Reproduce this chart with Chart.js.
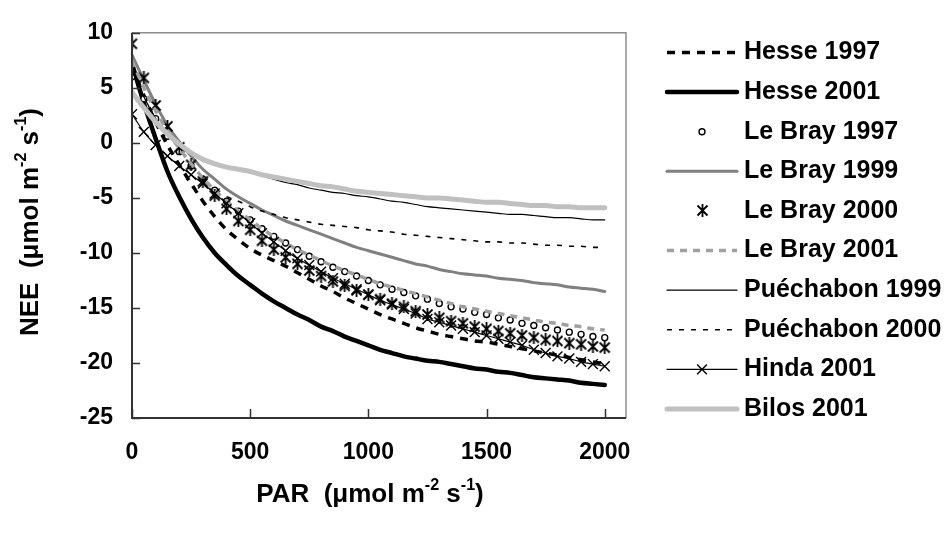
<!DOCTYPE html>
<html lang="en">
<head>
    <meta charset="UTF-8">
    <title>NEE vs PAR</title>
    <script src="https://cdn.jsdelivr.net/npm/chart.js"></script>
    <style>
        body { margin: 0; background: #fff; }
        #wrap { width: 951px; height: 536px; }
    </style>
</head>
<body>
    <div id="wrap"><canvas id="neeChart" width="951" height="536"></canvas></div>

    <script>
        // PAR (x) sampled every 50 umol m-2 s-1
        const parValues = [0, 50, 100, 150, 200, 250, 300, 350, 400, 450, 500, 550, 600, 650, 700, 750, 800, 850, 900, 950,
            1000, 1050, 1100, 1150, 1200, 1250, 1300, 1350, 1400, 1450, 1500, 1550, 1600, 1650, 1700, 1750, 1800, 1850, 1900, 1950, 2000];

        const seriesNames = ['Hesse 1997', 'Hesse 2001', 'Le Bray 1997', 'Le Bray 1999', 'Le Bray 2000',
            'Le Bray 2001', 'Puéchabon 1999', 'Puéchabon 2000', 'Hinda 2001', 'Bilos 2001'];

        const hesse1997 = [7.0, 4.3, 1.9, -0.2, -2.0, -3.7, -5.3, -6.7, -7.9, -8.8, -9.6, -10.2, -10.7, -11.2, -11.8, -12.4, -13.0, -13.5, -14.1, -14.6,
            -15.1, -15.6, -16.0, -16.4, -16.8, -17.1, -17.4, -17.6, -17.8, -18.0, -18.1, -18.3, -18.5, -18.7, -18.9, -19.1, -19.3, -19.5, -19.7, -19.9, -20.1];
        const hesse2001 = [7.2, 3.6, 0.4, -2.6, -4.9, -6.9, -8.6, -10.0, -11.1, -12.1, -12.9, -13.7, -14.4, -15.0, -15.6, -16.1, -16.7, -17.1, -17.6, -18.0,
            -18.4, -18.8, -19.1, -19.4, -19.6, -19.8, -19.9, -20.1, -20.3, -20.5, -20.6, -20.8, -20.9, -21.1, -21.3, -21.4, -21.5, -21.6, -21.8, -21.9, -22.0];
        const leBray1997 = [6.0, 4.0, 2.2, 0.6, -0.8, -2.1, -3.3, -4.3, -5.3, -6.2, -7.0, -7.8, -8.5, -9.1, -9.7, -10.3, -10.8, -11.3, -11.7, -12.1,
            -12.5, -12.9, -13.3, -13.6, -13.9, -14.2, -14.6, -14.9, -15.1, -15.4, -15.6, -15.9, -16.1, -16.4, -16.6, -16.8, -17.0, -17.2, -17.4, -17.6, -17.7];
        const leBray1999 = [8.0, 5.7, 3.5, 1.6, 0.1, -1.2, -2.4, -3.3, -4.2, -4.9, -5.5, -6.1, -6.6, -7.1, -7.5, -7.9, -8.3, -8.7, -9.1, -9.5,
            -9.8, -10.1, -10.4, -10.7, -11.0, -11.2, -11.5, -11.7, -11.9, -12.0, -12.1, -12.3, -12.4, -12.5, -12.7, -12.8, -12.9, -13.1, -13.2, -13.3, -13.5];
        const leBray2000 = [9.0, 5.9, 3.4, 1.5, -0.4, -2.0, -3.5, -4.8, -6.0, -7.1, -7.9, -8.9, -9.7, -10.4, -11.0, -11.6, -12.1, -12.6, -13.0, -13.4,
            -13.8, -14.2, -14.6, -14.9, -15.3, -15.6, -15.9, -16.2, -16.4, -16.7, -16.9, -17.1, -17.3, -17.5, -17.7, -17.9, -18.0, -18.2, -18.3, -18.5, -18.6];
        const leBray2001 = [7.5, 5.0, 2.9, 1.1, -0.5, -1.9, -3.2, -4.3, -5.3, -6.2, -7.0, -7.8, -8.5, -9.1, -9.7, -10.2, -10.7, -11.2, -11.6, -12.0,
            -12.4, -12.8, -13.1, -13.4, -13.7, -14.0, -14.3, -14.6, -14.9, -15.1, -15.3, -15.5, -15.7, -15.9, -16.1, -16.3, -16.4, -16.6, -16.7, -16.9, -17.0];
        const puechabon1999 = [6.5, 4.2, 2.2, 0.7, -0.3, -1.0, -1.5, -1.9, -2.2, -2.5, -2.7, -3.0, -3.3, -3.6, -3.8, -4.1, -4.3, -4.5, -4.6, -4.8,
            -4.9, -5.1, -5.3, -5.4, -5.6, -5.8, -5.9, -6.0, -6.1, -6.2, -6.3, -6.4, -6.5, -6.5, -6.6, -6.7, -6.8, -6.8, -6.9, -7.0, -7.0];
        const puechabon2000 = [null, null, null, null, null, null, null, null, -4.9, -5.3, -5.8, -6.2, -6.5, -6.8, -7.0, -7.2, -7.4, -7.5, -7.6, -7.7,
            -7.9, -8.0, -8.1, -8.3, -8.4, -8.5, -8.6, -8.7, -8.8, -8.9, -9.0, -9.0, -9.1, -9.1, -9.2, -9.3, -9.3, -9.4, -9.4, -9.5, -9.5];
        const hinda2001 = [2.6, 1.0, -0.2, -1.2, -2.1, -2.9, -3.7, -4.6, -5.5, -6.4, -7.3, -8.2, -9.0, -9.8, -10.5, -11.1, -11.7, -12.3, -12.8, -13.3,
            -13.8, -14.3, -14.7, -15.1, -15.5, -16.0, -16.3, -16.6, -16.9, -17.2, -17.5, -17.8, -18.1, -18.4, -18.8, -19.1, -19.4, -19.6, -19.9, -20.1, -20.3];
        const bilos2001 = [4.6, 3.2, 1.9, 0.8, -0.1, -0.9, -1.5, -1.9, -2.2, -2.4, -2.6, -2.9, -3.1, -3.3, -3.5, -3.7, -3.9, -4.0, -4.2, -4.4,
            -4.5, -4.6, -4.7, -4.8, -4.9, -5.0, -5.0, -5.1, -5.2, -5.3, -5.4, -5.4, -5.5, -5.6, -5.7, -5.7, -5.8, -5.8, -5.9, -5.9, -5.9];

        const xTickValues = [0, 500, 1000, 1500, 2000];
        const yTickValues = [-25, -20, -15, -10, -5, 0, 5, 10];

        const FONT = "'Liberation Sans', Arial, sans-serif";

        // asterisk marker (X with a vertical stroke) used for Le Bray 2000
        function makeAsterisk() {
            const c = document.createElement('canvas');
            c.width = 13; c.height = 13;
            const g = c.getContext('2d');
            g.strokeStyle = '#000';
            g.lineWidth = 1.8;
            g.beginPath();
            g.moveTo(1.5, 1.5); g.lineTo(11.5, 11.5);
            g.moveTo(11.5, 1.5); g.lineTo(1.5, 11.5);
            g.moveTo(6.5, 0); g.lineTo(6.5, 13);
            g.stroke();
            return c;
        }
        const asterisk = makeAsterisk();

        function pts(arr) {
            return parValues.map((x, i) => ({ x: x, y: arr[i] }));
        }

        const styles = [
            { data: hesse1997, color: '#000', width: 3.5, dash: [8, 7], line: true },
            { data: hesse2001, color: '#000', width: 4.5, dash: [], line: true },
            { data: leBray1997, color: '#000', width: 0, dash: [], line: false, point: 'circle', radius: 3, pw: 1.4, fill: '#fff' },
            { data: leBray1999, color: '#808080', width: 3, dash: [], line: true },
            { data: leBray2000, color: '#000', width: 0, dash: [], line: false, point: asterisk, radius: 6, pw: 1 },
            { data: leBray2001, color: '#a0a0a0', width: 3.5, dash: [7, 6], line: true },
            { data: puechabon1999, color: '#000', width: 1.2, dash: [], line: true },
            { data: puechabon2000, color: '#000', width: 1.6, dash: [5, 7], line: true },
            { data: hinda2001, color: '#000', width: 1.2, dash: [], line: true, point: 'crossRot', radius: 7, pw: 1.4 },
            { data: bilos2001, color: '#c0c0c0', width: 5, dash: [], line: true }
        ];

        const datasets = styles.map((s, i) => ({
            label: seriesNames[i],
            data: pts(s.data),
            borderColor: s.color,
            backgroundColor: s.fill || s.color,
            borderWidth: s.line ? s.width : s.pw,
            borderDash: s.dash,
            showLine: s.line,
            pointStyle: s.point || 'circle',
            pointRadius: s.point ? s.radius : 0,
            pointBorderWidth: s.pw || 1,
            pointBorderColor: s.color,
            pointBackgroundColor: s.fill || s.color,
            cubicInterpolationMode: 'monotone',
            borderCapStyle: s.dash.length ? 'butt' : 'round',
            order: 10 - i,
            _sample: s
        }));

        function drawRich(ctx, parts, size) {
            // draws text parts left to right, superscripts smaller and raised
            let x = 0;
            parts.forEach(p => {
                const fs = p.sup ? size * 0.62 : size;
                ctx.font = 'bold ' + fs + 'px ' + FONT;
                ctx.fillText(p.t, x, p.sup ? -size * 0.38 : 0);
                x += ctx.measureText(p.t).width;
            });
            return x;
        }
        function richWidth(ctx, parts, size) {
            let w = 0;
            parts.forEach(p => {
                const fs = p.sup ? size * 0.62 : size;
                ctx.font = 'bold ' + fs + 'px ' + FONT;
                w += ctx.measureText(p.t).width;
            });
            return w;
        }

        const frame = {
            id: 'frame',
            afterDraw(chart) {
                const ctx = chart.ctx;
                const a = chart.chartArea;
                const xs = chart.scales.x, ys = chart.scales.y;
                ctx.save();
                // top / right border
                ctx.strokeStyle = '#8c8c8c';
                ctx.lineWidth = 1.5;
                ctx.beginPath();
                ctx.moveTo(a.left, a.top); ctx.lineTo(a.right, a.top); ctx.lineTo(a.right, a.bottom);
                ctx.stroke();
                // axes
                ctx.strokeStyle = '#333';
                ctx.lineWidth = 2;
                ctx.beginPath();
                ctx.moveTo(a.left, a.top); ctx.lineTo(a.left, a.bottom); ctx.lineTo(a.right, a.bottom);
                ctx.stroke();
                // inside tick marks
                ctx.lineWidth = 1.5;
                ctx.beginPath();
                yTickValues.forEach(v => {
                    const y = Math.round(ys.getPixelForValue(v)) + 0.5;
                    ctx.moveTo(a.left, y); ctx.lineTo(a.left + 8, y);
                });
                xTickValues.forEach(v => {
                    const x = Math.round(xs.getPixelForValue(v)) + 0.5;
                    ctx.moveTo(x, a.bottom); ctx.lineTo(x, a.bottom - 9);
                });
                ctx.stroke();

                // axis titles
                ctx.fillStyle = '#000';
                ctx.textBaseline = 'middle';
                ctx.textAlign = 'left';
                const tsize = 26;
                const xParts = [{ t: 'PAR  (μmol m' }, { t: '-2', sup: true }, { t: ' s' }, { t: '-1', sup: true }, { t: ')' }];
                const yParts = [{ t: 'NEE  (μmol m' }, { t: '-2', sup: true }, { t: ' s' }, { t: '-1', sup: true }, { t: ')' }];
                let w = richWidth(ctx, xParts, tsize);
                ctx.save();
                ctx.translate(370 - w / 2, 495);
                drawRich(ctx, xParts, tsize);
                ctx.restore();
                w = richWidth(ctx, yParts, tsize);
                ctx.save();
                ctx.translate(31, 222 + w / 2);
                ctx.rotate(-Math.PI / 2);
                drawRich(ctx, yParts, tsize);
                ctx.restore();

                // legend
                const x0 = 667, x1 = 737, tx = 744;
                chart.data.datasets.forEach((ds, i) => {
                    const s = ds._sample;
                    const y = 52.5 + i * 39.6;
                    if (s.line) {
                        ctx.save();
                        ctx.strokeStyle = s.color;
                        ctx.lineWidth = s.width;
                        ctx.setLineDash(s.dash);
                        ctx.lineCap = s.dash.length ? 'butt' : 'round';
                        ctx.beginPath();
                        ctx.moveTo(x0, y); ctx.lineTo(x1, y);
                        ctx.stroke();
                        ctx.restore();
                    }
                    if (s.point) {
                        const cx = (x0 + x1) / 2;
                        ctx.save();
                        ctx.strokeStyle = s.color;
                        ctx.fillStyle = s.fill || s.color;
                        ctx.lineWidth = s.pw;
                        ctx.setLineDash([]);
                        if (s.point === 'circle') {
                            ctx.beginPath();
                            ctx.arc(cx, y, s.radius, 0, Math.PI * 2);
                            ctx.fill(); ctx.stroke();
                        } else if (s.point === 'crossRot') {
                            const r = s.radius * 0.7;
                            ctx.beginPath();
                            ctx.moveTo(cx - r, y - r); ctx.lineTo(cx + r, y + r);
                            ctx.moveTo(cx + r, y - r); ctx.lineTo(cx - r, y + r);
                            ctx.stroke();
                        } else {
                            ctx.drawImage(s.point, Math.round(cx - 6.5), Math.round(y - 6.5));
                        }
                        ctx.restore();
                    }
                    ctx.fillStyle = '#000';
                    ctx.font = 'bold 25px ' + FONT;
                    ctx.textBaseline = 'middle';
                    ctx.fillText(ds.label, tx, y);
                });
                ctx.restore();
            }
        };

        new Chart(document.getElementById('neeChart').getContext('2d'), {
            type: 'line',
            data: { datasets: datasets },
            options: {
                responsive: false,
                animation: false,
                layout: { padding: { top: 22, right: 325, left: 0, bottom: 0 } },
                plugins: {
                    legend: { display: false },
                    tooltip: { enabled: false }
                },
                scales: {
                    x: {
                        type: 'linear',
                        min: 0,
                        max: 2090,
                        afterBuildTicks: axis => { axis.ticks = xTickValues.map(v => ({ value: v })); },
                        afterFit: axis => { axis.height = 118; },
                        grid: { display: false, drawTicks: false },
                        border: { display: false },
                        ticks: {
                            padding: 21,
                            maxRotation: 0,
                            color: '#000',
                            font: { family: FONT, size: 23, weight: 'bold' },
                            callback: v => String(v)
                        }
                    },
                    y: {
                        type: 'linear',
                        min: -25,
                        max: 10,
                        afterBuildTicks: axis => { axis.ticks = yTickValues.map(v => ({ value: v })); },
                        afterFit: axis => { axis.width = 132; },
                        grid: { display: false, drawTicks: false },
                        border: { display: false },
                        ticks: {
                            padding: 19,
                            color: '#000',
                            font: { family: FONT, size: 23, weight: 'bold' },
                            callback: v => String(v)
                        }
                    }
                }
            },
            plugins: [frame]
        });
    </script>
</body>
</html>
